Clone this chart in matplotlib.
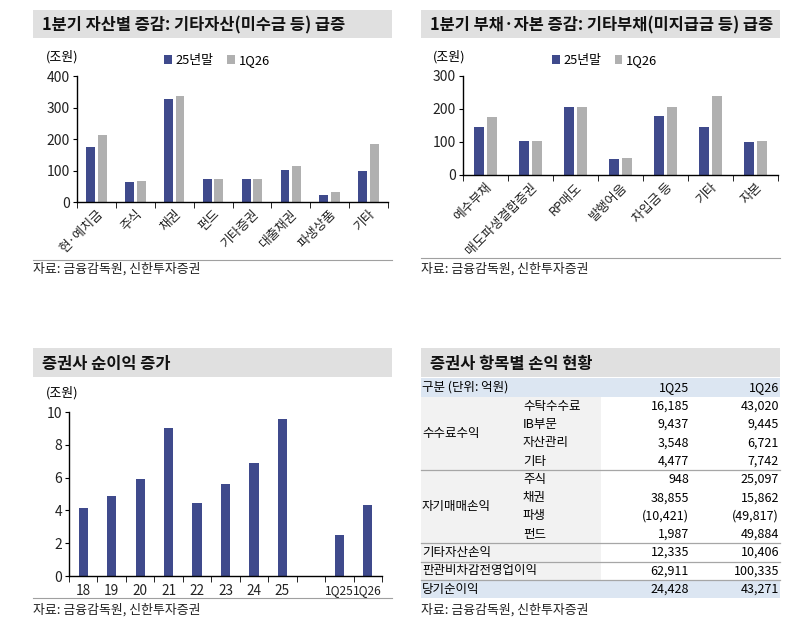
import matplotlib
matplotlib.use('Agg')
import matplotlib.pyplot as plt
from matplotlib.patches import Rectangle
import numpy as np

plt.rcParams['font.family'] = ['Noto Sans CJK KR', 'DejaVu Sans']

W, H = 800, 627
NAVY = '#3f4a8c'
GREY = '#b0b0b0'
BAND = '#e0e0e0'

# ---- data
asset_cats = ['현·예치금', '주식', '채권', '펀드', '기타증권', '대출채권', '파생상품', '기타']
asset_25 = [175, 65, 327, 72, 73, 103, 23, 99]
asset_26 = [212, 67, 338, 72, 73, 114, 33, 183]

liab_cats = ['예수부채', '매도파생결합증권', 'RP매도', '발행어음', '차입금 등', '기타', '자본']
liab_25 = [145, 104, 206, 48, 180, 145, 99]
liab_26 = [175, 102, 205, 52, 206, 238, 104]

ni_cats = ['18', '19', '20', '21', '22', '23', '24', '25', '', '1Q25', '1Q26']
ni_vals = [4.12, 4.88, 5.94, 9.02, 4.43, 5.61, 6.88, 9.59, np.nan, 2.47, 4.35]

tbl_groups = ['수수료수익', '자기매매손익']
tbl_main = ['', '', '', '', '', '', '', '', '기타자산손익', '판관비차감전영업이익', '당기순이익']
tbl_sub = ['수탁수수료', 'IB부문', '자산관리', '기타', '주식', '채권', '파생', '펀드', '', '', '']
tbl_1q25 = [16185, 9437, 3548, 4477, 948, 38855, -10421, 1987, 12335, 62911, 24428]
tbl_1q26 = [43020, 9445, 6721, 7742, 25097, 15862, -49817, 49884, 10406, 100335, 43271]

fig = plt.figure(figsize=(W / 100, H / 100), dpi=100)
bg = fig.add_axes([0, 0, 1, 1])
bg.set_xlim(0, W)
bg.set_ylim(H, 0)
bg.axis('off')

FS = 9.3  # body text size


def px_axes(x0, y0, x1, y1):
    return fig.add_axes([x0 / W, 1 - y1 / H, (x1 - x0) / W, (y1 - y0) / H])


def band(x0, x1, y0, y1, title):
    bg.add_patch(Rectangle((x0, y0), x1 - x0, y1 - y0, color=BAND, lw=0))
    bg.text(x0 + 9, (y0 + y1) / 2 + 1, title, fontsize=11.8, fontweight='bold',
            va='center', ha='left', color='#111111')


def source(x, y):
    bg.text(x, y, '자료: 금융감독원, 신한투자증권', fontsize=FS, va='center', ha='left',
            color='#222222')


def style(ax):
    ax.set_facecolor('none')
    for s in ['top', 'right']:
        ax.spines[s].set_visible(False)
    for s in ['left', 'bottom']:
        ax.spines[s].set_linewidth(1.0)
    ax.tick_params(axis='y', labelsize=10, length=3, pad=2, labelcolor='#222222')
    ax.tick_params(axis='x', which='both', length=0, labelsize=9.3, labelcolor='#222222')


def group_bars(ax, cats, a, b, width, off):
    x = np.arange(len(cats))
    h1 = ax.bar(x - off, a, width, color=NAVY, label='25년말')
    h2 = ax.bar(x + off, b, width, color=GREY, label='1Q26')
    ax.set_xlim(-0.5, len(cats) - 0.5)
    ax.set_xticks(x)
    ax.set_xticklabels(cats, rotation=45, ha='right', rotation_mode='anchor')
    ax.set_xticks(np.arange(len(cats) + 1) - 0.5, minor=True)
    ax.tick_params(axis='x', which='minor', length=4, direction='out')
    ax.tick_params(axis='x', which='major', pad=4)
    ax.legend(handles=[h1, h2], loc='lower center', bbox_to_anchor=(0.45, 1.0),
              ncol=2, frameon=False, fontsize=FS, handlelength=0.6, handleheight=0.6,
              handletextpad=0.3, columnspacing=1.0, borderpad=0.2)


# ---- panel 1
band(33, 392, 10, 38, '1분기 자산별 증감: 기타자산(미수금 등) 급증')
ax1 = px_axes(77, 76, 388, 202)
style(ax1)
group_bars(ax1, asset_cats, asset_25, asset_26, 0.23, 0.15)
ax1.set_ylim(0, 400)
ax1.set_yticks([0, 100, 200, 300, 400])
bg.text(46, 57, '(조원)', fontsize=FS, va='center')
bg.plot([33, 392], [260, 260], color='#a0a0a0', lw=0.8)
source(33, 269)

# ---- panel 2
band(421, 780, 10, 38, '1분기 부채·자본 증감: 기타부채(미지급금 등) 급증')
ax2 = px_axes(463, 76, 778, 175)
style(ax2)
group_bars(ax2, liab_cats, liab_25, liab_26, 0.22, 0.135)
ax2.set_ylim(0, 300)
ax2.set_yticks([0, 100, 200, 300])
bg.text(433, 57, '(조원)', fontsize=FS, va='center')
bg.plot([421, 780], [258, 258], color='#a0a0a0', lw=0.8)
source(421, 269)

# ---- panel 3
band(33, 392, 348, 377, '증권사 순이익 증가')
ax3 = px_axes(69, 412, 382, 576)
style(ax3)
x3 = np.arange(len(ni_cats))
ax3.bar(x3, ni_vals, 0.32, color=NAVY)
ax3.set_xlim(-0.5, len(ni_cats) - 0.5)
ax3.set_ylim(0, 10)
ax3.set_yticks([0, 2, 4, 6, 8, 10])
ax3.set_xticks(x3)
ax3.set_xticklabels(ni_cats)
ax3.set_xticks(np.arange(len(ni_cats) + 1) - 0.5, minor=True)
ax3.tick_params(axis='x', which='minor', length=4, direction='out')
ax3.tick_params(axis='x', which='major', pad=6, labelsize=9.8)
for lbl in ax3.get_xticklabels():
    if lbl.get_text().startswith('1Q'):
        lbl.set_fontsize(8.6)
bg.text(46, 393, '(조원)', fontsize=FS, va='center')
bg.plot([33, 392], [598, 598], color='#a0a0a0', lw=0.8)
source(33, 610)

# ---- panel 4 (table)
band(421, 780, 348, 377, '증권사 항목별 손익 현황')
tx0, tx1 = 421, 780
top, rh = 397, 18.3
TFS = 9
bg.add_patch(Rectangle((tx0, 378), tx1 - tx0, top - 378, color='#dce6f2', lw=0))
bg.text(tx0 + 1, 387.5, '구분 (단위: 억원)', fontsize=TFS, va='center')
bg.text(689, 387.5, '1Q25', fontsize=TFS, va='center', ha='right')
bg.text(779, 387.5, '1Q26', fontsize=TFS, va='center', ha='right')
n = len(tbl_sub)
bg.add_patch(Rectangle((tx0, top), 601 - tx0, rh * (n - 1), color='#f2f2f2', lw=0))
bg.add_patch(Rectangle((tx0, top + rh * (n - 1)), tx1 - tx0, rh, color='#dce6f2', lw=0))


def fmt(v):
    return f'({-v:,})' if v < 0 else f'{v:,}'


for i in range(n):
    yc = top + rh * (i + 0.5)
    if tbl_main[i]:
        bg.text(tx0 + 1, yc, tbl_main[i], fontsize=TFS, va='center')
    if tbl_sub[i]:
        bg.text(523, yc, tbl_sub[i], fontsize=TFS, va='center')
    bg.text(689, yc, fmt(tbl_1q25[i]), fontsize=TFS, va='center', ha='right')
    bg.text(779, yc, fmt(tbl_1q26[i]), fontsize=TFS, va='center', ha='right')

for k, g in enumerate(tbl_groups):
    bg.text(tx0 + 1, top + rh * (4 * k + 2), g, fontsize=TFS, va='center')

for r in [4, 8, 9, 10]:
    yy = top + rh * r
    bg.plot([tx0, tx1], [yy, yy], color='#a6a6a6', lw=0.9)

source(421, 610)

fig.savefig('out.png', dpi=100)
